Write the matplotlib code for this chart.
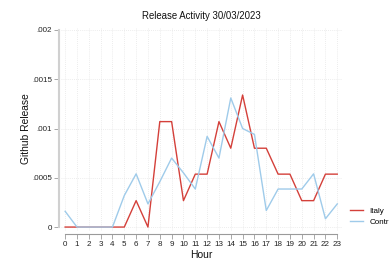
import matplotlib
matplotlib.use("Agg")
import matplotlib.pyplot as plt

plt.rcParams['font.family'] = ['Liberation Sans', 'DejaVu Sans']

hours = list(range(24))
italy = [0, 0, 0, 0, 0, 0, 0.000268, 0, 0.00107, 0.00107, 0.000268, 0.000537,
         0.000537, 0.00107, 0.0008, 0.00134, 0.0008, 0.0008, 0.000537, 0.000537,
         0.000268, 0.000268, 0.000537, 0.000537]
contrib = [0.00016, 0, 0, 0, 0, 0.00032, 0.00054, 0.000235, 0.00046, 0.0007,
           0.00055, 0.000386, 0.00092, 0.0007, 0.00131, 0.001, 0.00094, 0.000168,
           0.000386, 0.000386, 0.000386, 0.00054, 0.000084, 0.000235]
yticks = [0, 0.0005, 0.001, 0.0015, 0.002]
ytick_labels = ["0", ".0005", ".001", ".0015", ".002"]
series_names = ["Italy", "Contributors"]
title = "Release Activity 30/03/2023"

W, H = 389, 259
fig = plt.figure(figsize=(W/100, H/100), dpi=100)
fig.patch.set_facecolor('white')
l, r, t, b = 61, 342, 27, 231
ax = fig.add_axes([l/W, (H-b)/H, (r-l)/W, (b-t)/H])

ax.plot(hours, italy, color='#d4403a', lw=1.0, label=series_names[0])
ax.plot(hours, contrib, color='#9fcbea', lw=1.0, label=series_names[1])

ax.set_xlim(-0.35, 23.4)
ax.set_ylim(-0.00004, 0.00203)
ax.set_xticks(hours)
ax.set_yticks(yticks)
ax.set_yticklabels(ytick_labels)
ax.grid(True, color='#e6e6e6', lw=0.6, ls=(0, (1, 1.5)))
ax.set_axisbelow(True)

for s in ['top', 'right']:
    ax.spines[s].set_visible(False)
ax.spines['left'].set_position(('outward', 1.5))
ax.spines['left'].set_bounds(0, 0.002)
ax.spines['left'].set_color('#d0d0d0')
ax.spines['left'].set_linewidth(1.5)
ax.spines['bottom'].set_position(('outward', 2))
ax.spines['bottom'].set_bounds(0, 23)
ax.spines['bottom'].set_color('#9a9a9a')
ax.spines['bottom'].set_linewidth(0.8)
ax.tick_params(axis='both', labelsize=5.8, colors='#9a9a9a', labelcolor='#222222',
               length=3.5, width=0.6, pad=1.5)

ax.set_title(title, fontsize=6.9, pad=5.5, color='#111111')
ax.set_xlabel("Hour", fontsize=7.5, labelpad=1.5, color='#111111')
ax.set_ylabel("Github Release", fontsize=7.4, labelpad=1, color='#111111')

handles, labels = ax.get_legend_handles_labels()
fig.legend(handles, labels, loc='upper left', bbox_to_anchor=(350/W, 1-207/H),
           frameon=False, fontsize=5.8, handlelength=1.6, handletextpad=0.8,
           labelspacing=0.45, borderaxespad=0, borderpad=0)

fig.savefig("out.png", dpi=100, facecolor='white')
